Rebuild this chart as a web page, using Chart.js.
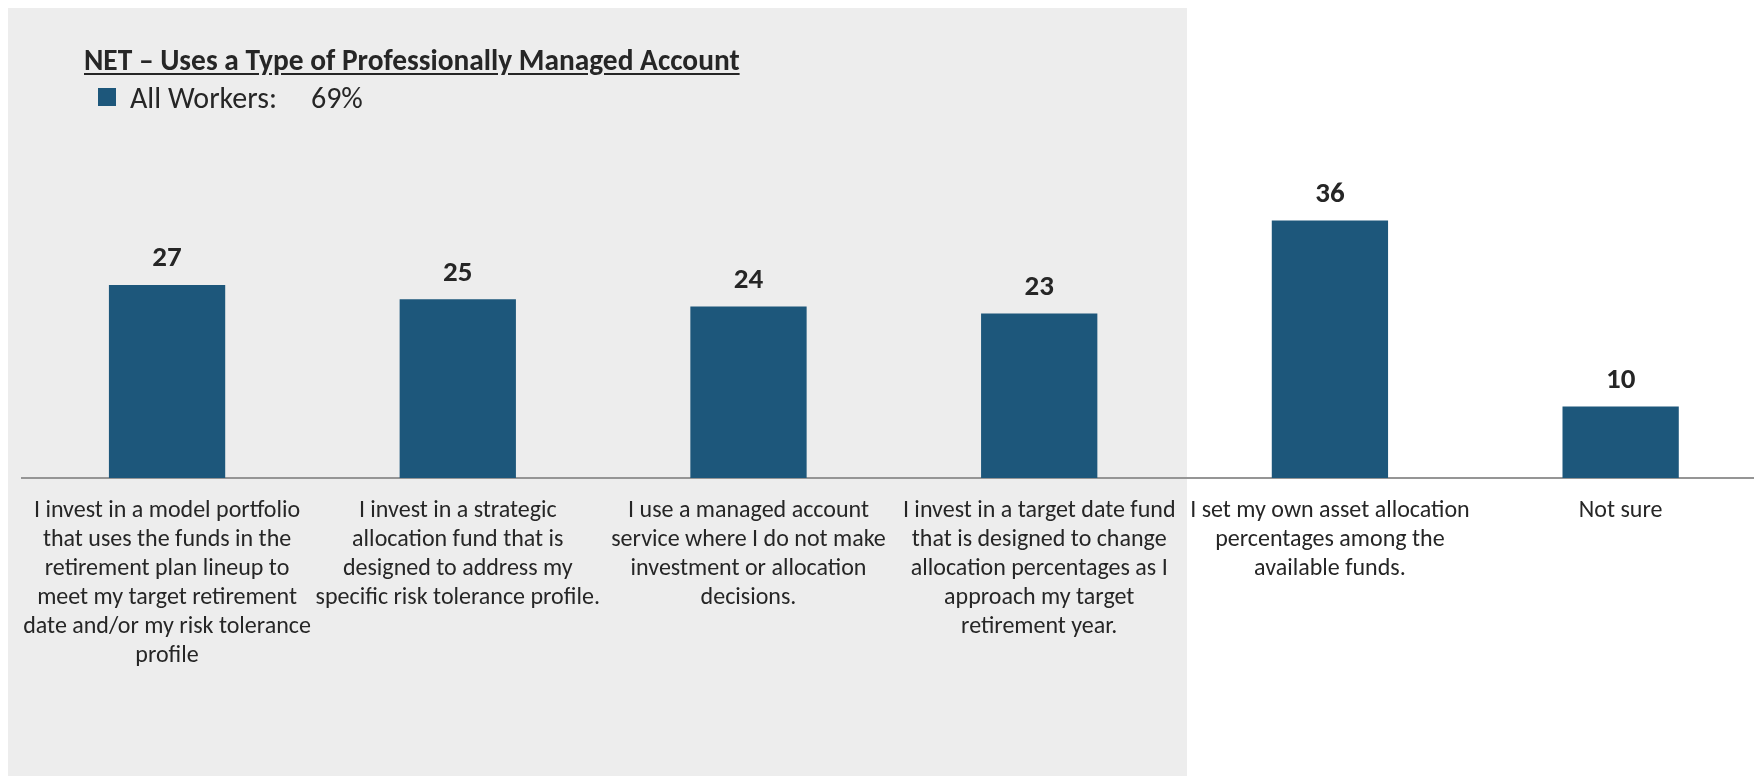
<!DOCTYPE html>
<html>
<head>
<meta charset="utf-8">
<script src="https://cdn.jsdelivr.net/npm/chart.js@4/dist/chart.umd.min.js"></script>
<style>
  html, body { margin:0; padding:0; width:1754px; height:776px; overflow:hidden; background:#fff; }
  body { position:relative; font-family: Carlito, Calibri, Lato, sans-serif; color:#262626; }
  #panel { position:absolute; left:8px; top:8px; width:1179px; height:768px; background:#ededed; }
  #wrap { position:absolute; left:0; top:0; width:1766px; height:776px; }
  #title { position:absolute; left:84px; top:42px; font-size:29.4px; line-height:36px; font-weight:700; text-decoration:underline; text-underline-offset:3px; white-space:nowrap; }
  #legend { position:absolute; left:98px; top:79px; height:37px; font-size:30px; line-height:37px; white-space:nowrap; display:flex; align-items:center; }
  #legend .swatch { display:inline-block; width:18px; height:18px; background:#1d577b; margin-right:14px; margin-top:-2px; }
  #legend .val { margin-left:34px; }
</style>
</head>
<body>
<div id="panel"></div>
<div id="wrap"><canvas id="chart" width="1766" height="776"></canvas></div>
<div id="title"></div>
<div id="legend"><span class="swatch"></span><span id="legend-name"></span><span class="val" id="legend-val"></span></div>

<script>
// ---- data ----
const categories = [
  ['I invest in a model portfolio', 'that uses the funds in the', 'retirement plan lineup to', 'meet my target retirement', 'date and/or my risk tolerance', 'profile'],
  ['I invest in a strategic', 'allocation fund that is', 'designed to address my', 'specific risk tolerance profile.'],
  ['I use a managed account', 'service where I do not make', 'investment or allocation', 'decisions.'],
  ['I invest in a target date fund', 'that is designed to change', 'allocation percentages as I', 'approach my target', 'retirement year.'],
  ['I set my own asset allocation', 'percentages among the', 'available funds.'],
  ['Not sure'],
];
const values = [27, 25, 24, 23, 36, 10];

const netTitle   = 'NET – Uses a Type of Professionally Managed Account';
const seriesName = 'All Workers:';
const netValue   = '69%';

const BAR_COLOR  = '#1d577b';
const TEXT_COLOR = '#262626';
const FONT       = 'Carlito, Calibri, Lato, sans-serif';

document.getElementById('title').textContent = netTitle;
document.getElementById('legend-name').textContent = seriesName;
document.getElementById('legend-val').textContent = netValue;

// numbers above each bar
const valueLabels = {
  id: 'valueLabels',
  afterDatasetsDraw(chart) {
    const { ctx } = chart;
    const meta = chart.getDatasetMeta(0);
    ctx.save();
    ctx.font = `700 29px ${FONT}`;
    ctx.fillStyle = TEXT_COLOR;
    ctx.textAlign = 'center';
    ctx.textBaseline = 'middle';
    meta.data.forEach((bar, i) => {
      ctx.fillText(String(chart.data.datasets[0].data[i]), bar.x, bar.y - 26);
    });
    ctx.restore();
  }
};

new Chart(document.getElementById('chart'), {
  type: 'bar',
  data: {
    labels: categories,
    datasets: [{
      label: seriesName,
      data: values,
      backgroundColor: BAR_COLOR,
      barPercentage: 0.4,
      categoryPercentage: 1,
    }]
  },
  plugins: [valueLabels],
  options: {
    responsive: false,
    animation: false,
    layout: { padding: { left: 21.7, top: 49, right: 0, bottom: 0 } },
    plugins: { legend: { display: false }, tooltip: { enabled: false } },
    scales: {
      x: {
        grid: { display: false, drawTicks: false },
        border: { display: true, color: '#959595', width: 2 },
        ticks: {
          color: TEXT_COLOR,
          font: { family: FONT, size: 24, lineHeight: '29px' },
          padding: 18,
          maxRotation: 0,
          autoSkip: false,
        },
        afterFit(scale) { scale.height = 298; }
      },
      y: {
        display: false,
        min: 0,
        max: 60,
      }
    }
  }
});
</script>
</body>
</html>
